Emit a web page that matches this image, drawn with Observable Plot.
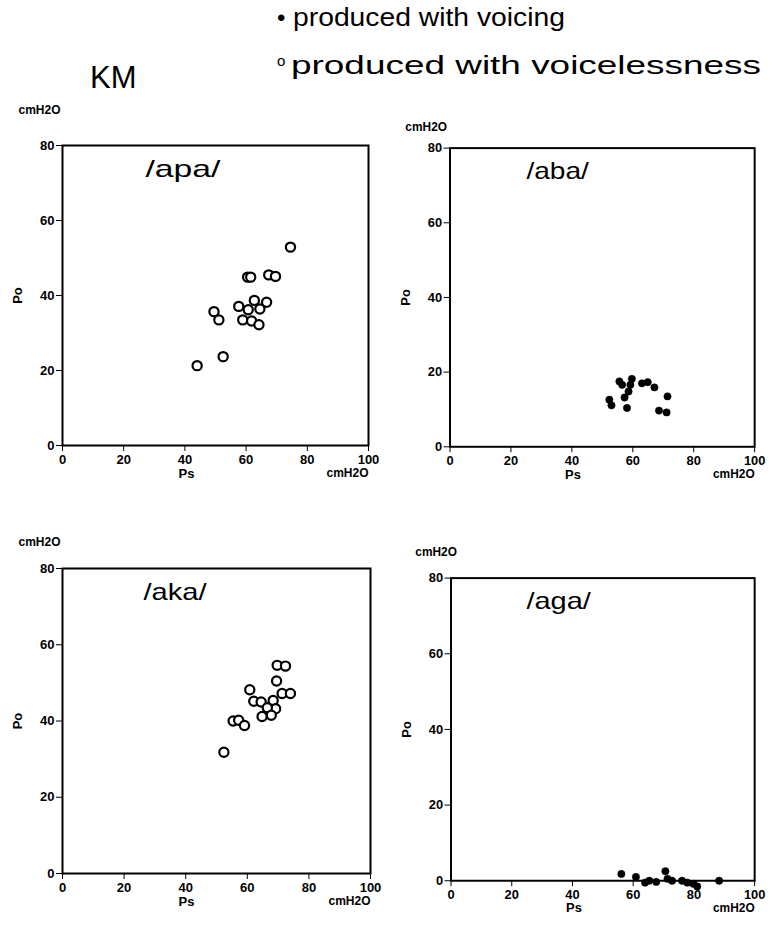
<!DOCTYPE html>
<html><head><meta charset="utf-8">
<script src="https://cdn.jsdelivr.net/npm/d3@7"></script>
<script src="https://cdn.jsdelivr.net/npm/@observablehq/plot@0.6"></script>
<style>
body{margin:0;background:#fff;width:774px;height:933px;position:relative;overflow:hidden;font-family:"Liberation Sans",Arial,sans-serif;color:#000;}
.abs{position:absolute;white-space:nowrap;}
.abs svg{overflow:visible;}
#legend{position:absolute;left:0;top:0;}
</style></head><body>
<svg id="legend" width="774" height="100" style="font-family:'Liberation Sans',Arial,sans-serif;">
  <text x="277" y="26" font-size="24">•</text>
  <text x="293" y="26" font-size="25" textLength="272" lengthAdjust="spacingAndGlyphs">produced with voicing</text>
  <text x="277" y="66" font-size="15">o</text>
  <text x="291" y="74" font-size="25" textLength="470" lengthAdjust="spacingAndGlyphs">produced with voicelessness</text>
  <text x="90" y="88" font-size="31">KM</text>
</svg>
<div id="p1" class="abs"></div>
<div id="p2" class="abs"></div>
<div id="p3" class="abs"></div>
<div id="p4" class="abs"></div>
<script>
const xTicks = [0, 20, 40, 60, 80, 100];
const yTicks = [0, 20, 40, 60, 80];

const apaPs = [74.5, 60.5, 61.5, 67.4, 69.6, 57.6, 62.7, 66.7, 60.7, 64.5, 49.5, 51.1, 58.9, 61.8, 64.2, 52.5, 44.0];
const apaPo = [52.9, 44.9, 44.9, 45.5, 45.1, 37.1, 38.7, 38.2, 36.2, 36.4, 35.7, 33.5, 33.5, 33.2, 32.2, 23.7, 21.3];

const abaPs = [55.6, 56.5, 59.7, 59.2, 58.6, 57.3, 58.1, 52.3, 53.0, 63.0, 64.9, 67.1, 71.4, 68.6, 71.1];
const abaPo = [17.5, 16.6, 18.2, 16.6, 14.8, 13.2, 10.4, 12.6, 11.1, 17.0, 17.3, 15.9, 13.5, 9.7, 9.2];

const akaPs = [69.7, 72.4, 69.5, 60.8, 71.3, 74.0, 62.1, 64.5, 68.4, 69.2, 66.5, 67.8, 64.8, 55.4, 57.2, 59.1, 52.4];
const akaPo = [54.6, 54.4, 50.5, 48.2, 47.2, 47.2, 45.2, 45.0, 45.4, 43.2, 43.5, 41.5, 41.2, 40.0, 40.2, 38.8, 31.8];

const agaPs = [56.1, 60.9, 63.9, 65.3, 67.6, 70.6, 71.3, 72.8, 76.1, 77.8, 79.8, 81.1, 88.3];
const agaPo = [1.8, 1.0, -0.5, 0.0, -0.3, 2.5, 0.5, 0.0, 0.0, -0.5, -0.8, -1.5, 0.0];

function panel(id, {left, top, right, bottom, ps, po, filled, label, labelDx, labelLen, unitDx, unitDy}) {
  const mL = 62, mT = 50, mR = 20, mB = 50;
  const w = right - left + mL + mR, h = bottom - top + mT + mB;
  const data = ps.map((x, i) => ({ps: x, po: po[i]}));
  const chart = Plot.plot({
    width: w, height: h,
    marginLeft: mL, marginTop: mT, marginRight: mR, marginBottom: mB,
    style: {fontFamily: "'Liberation Sans', Arial, sans-serif", fontSize: "13px", fontWeight: "bold", background: "transparent", overflow: "visible", color: "black"},
    x: {domain: [0, 100], ticks: xTicks, tickSize: 6, tickPadding: 3, label: null},
    y: {domain: [0, 80], ticks: yTicks, tickSize: 6, tickPadding: 2, label: "Po", labelAnchor: "center", labelOffset: 50, labelArrow: "none"},
    marks: [
      Plot.frame({stroke: "black", strokeWidth: 2}),
      Plot.dot(data, {x: "ps", y: "po", r: filled ? 3.7 : 4.6,
        fill: filled ? "black" : "white", stroke: "black", strokeWidth: filled ? 0.5 : 2.2}),
      Plot.text([label], {frameAnchor: "top-left", dx: labelDx, dy: 14, textAnchor: "start", fontSize: 24, fontWeight: "normal"}),
      Plot.text(["Ps"], {frameAnchor: "bottom-left", dx: 116, dy: 32, fontSize: 13}),
      Plot.text(["cmH2O"], {frameAnchor: "bottom-right", dy: 31, textAnchor: "end", fontSize: 12}),
      Plot.text(["cmH2O"], {frameAnchor: "top-left", dx: unitDx, dy: -unitDy, textAnchor: "start", fontSize: 12})
    ]
  });
  chart.querySelectorAll("text").forEach(t => {
    if (t.textContent === label) {
      t.setAttribute("textLength", labelLen);
      t.setAttribute("lengthAdjust", "spacingAndGlyphs");
    }
  });
  const el = document.getElementById(id);
  el.style.left = (left - mL) + "px";
  el.style.top = (top - mT) + "px";
  el.appendChild(chart);
}

panel("p1", {left: 62, top: 145, right: 368, bottom: 445, ps: apaPs, po: apaPo, filled: false, label: "/apa/", labelDx: 83, labelLen: 75, unitDx: -44, unitDy: 40});
panel("p2", {left: 450, top: 148, right: 757, bottom: 449, ps: abaPs, po: abaPo, filled: true, label: "/aba/", labelDx: 77, labelLen: 63, unitDx: -45, unitDy: 26});
panel("p3", {left: 62, top: 568, right: 370, bottom: 873, ps: akaPs, po: akaPo, filled: false, label: "/aka/", labelDx: 81, labelLen: 63, unitDx: -44, unitDy: 31});
panel("p4", {left: 451, top: 578, right: 757, bottom: 883, ps: agaPs, po: agaPo, filled: true, label: "/aga/", labelDx: 76, labelLen: 65, unitDx: -36, unitDy: 31});
</script>
</body></html>
